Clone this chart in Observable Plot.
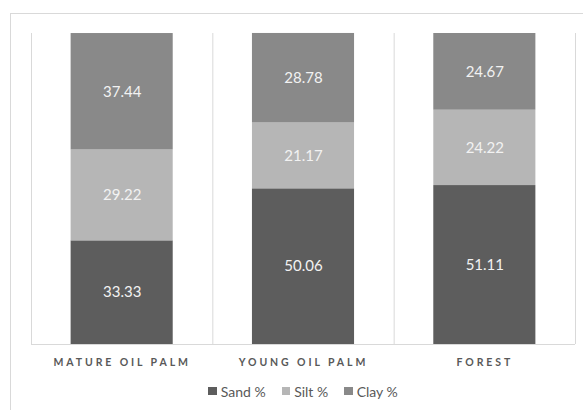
<!DOCTYPE html>
<html>
<head>
<meta charset="utf-8">
<script src="https://cdn.jsdelivr.net/npm/d3@7"></script>
<script src="https://cdn.jsdelivr.net/npm/@observablehq/plot@0.6"></script>
<style>
  body { margin: 0; background: #fff; font-family: Lato, "Open Sans", sans-serif; }
  #wrap { position: relative; width: 583px; height: 410px; overflow: hidden; }
  #border { position: absolute; left: 10px; top: 13px; width: 620px; height: 420px;
            border-top: 1px solid #d9d9d9; border-left: 1px solid #d9d9d9; box-sizing: border-box; }
  #chart { position: absolute; left: 0; top: 0; }
  #chart svg [aria-label="x-axis tick label"] text { letter-spacing: 2.9px; }
  #legend { position: absolute; left: 31px; width: 544px; top: 382px; height: 18px;
            display: flex; justify-content: center; align-items: center; gap: 16px;
            font-size: 14px; color: #595959; }
  .item { display: flex; align-items: center; gap: 4px; }
  .sw { width: 8.5px; height: 8.5px; display: inline-block; }
</style>
</head>
<body>
<div id="wrap">
  <div id="border"></div>
  <div id="chart"></div>
  <div id="legend"></div>
</div>
<script>
// Soil texture by land use (percent of sand, silt and clay)
const categories = ["MATURE OIL PALM", "YOUNG OIL PALM", "FOREST"];
const components = ["Sand %", "Silt %", "Clay %"];
const sand = [33.33, 50.06, 51.11];
const silt = [29.22, 21.17, 24.22];
const clay = [37.44, 28.78, 24.67];
const colors = ["#5d5d5d", "#b6b6b6", "#898989"];

const series = [sand, silt, clay];
const rows = [];
categories.forEach((c, i) => {
  components.forEach((k, j) => rows.push({category: c, component: k, value: series[j][i]}));
});

const width = 583, height = 375;
const marginLeft = 31, marginRight = 8, marginTop = 33, marginBottom = 31;
const xOptions = {domain: categories, paddingInner: 0.437, paddingOuter: 0.2185, round: false};
const xScale = Plot.scale({x: {type: "band", ...xOptions, range: [marginLeft, width - marginRight]}});
const step = xScale.step;

const chart = Plot.plot({
  width, height, marginLeft, marginRight, marginTop, marginBottom,
  style: {fontFamily: "Lato, 'Open Sans', sans-serif", background: "transparent"},
  x: {...xOptions, label: null},
  y: {domain: [0, 100], axis: null},
  color: {domain: components, range: colors},
  marks: [
    // column separators at the band edges
    Plot.ruleX(categories, {x: d => d, dx: -step / 2, stroke: "#d9d9d9", strokeWidth: 1}),
    Plot.ruleX(categories.slice(-1), {x: d => d, dx: step / 2, stroke: "#d9d9d9", strokeWidth: 1}),
    Plot.barY(rows, {x: "category", y: "value", fill: "component", order: null}),
    Plot.ruleY([0], {stroke: "#d9d9d9", strokeWidth: 1}),
    Plot.text(rows, Plot.stackY({
      x: "category", y: "value", z: "component",
      text: d => d.value.toFixed(2), fill: "#f2f2f2", fontSize: 15
    })),
    Plot.axisX({tickSize: 0, tickPadding: 14, fontSize: 10.5, fontWeight: "bold", fill: "#595959", label: null})
  ]
});
document.getElementById("chart").appendChild(chart);

// legend
const legend = document.getElementById("legend");
components.forEach((k, j) => {
  const item = document.createElement("span");
  item.className = "item";
  const sw = document.createElement("span");
  sw.className = "sw";
  sw.style.background = colors[j];
  const t = document.createElement("span");
  t.textContent = k;
  item.append(sw, t);
  legend.appendChild(item);
});
</script>
</body>
</html>
